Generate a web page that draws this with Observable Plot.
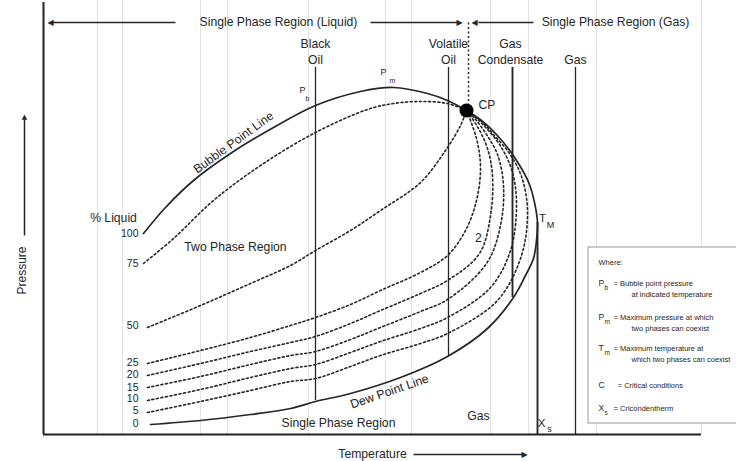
<!DOCTYPE html>
<html><head><meta charset="utf-8">
<script src="https://cdn.jsdelivr.net/npm/d3@7"></script>
<script src="https://cdn.jsdelivr.net/npm/@observablehq/plot@0.6"></script>
<style>body{margin:0;background:#fff} svg{display:block}</style>
</head><body><div id="chart"></div>
<script>
// Diagram units: T = temperature, P = pressure (arbitrary units)
const bubblePoint = [[100,201],[122,227],[150,254],[187,281],[230,307],[272,329],[317,343],[350,347],[384,341],[404,334],[423,324]];
const dewPoint = [[107,10],[157,14],[207,20],[247,26],[272,33],[307,41],[357,57],[404,78],[444,106],[470,137],[482,159],[490,176],[493,194],[494,212],[491,232],[486,250],[478,266],[467,283],[453,300],[438,314],[423,324]];
const liq75 = [[100,171],[130,196],[170,234],[217,269],[272,302],[324,325],[350,331],[377,333],[404,331],[423,324]];
const liq50 = [[104,107],[157,129],[207,151],[247,169],[272,184],[307,204],[337,224],[377,252],[402,284],[417,309],[423,324]];
const liq25 = [[104,71],[157,84],[207,97],[247,109],[272,117],[307,130],[337,144],[377,162],[404,179],[422,204],[433,234],[437,267],[433,296],[423,324]];
const liq20 = [[104,59],[157,71],[207,83],[247,92],[272,98],[307,111],[337,124],[377,141],[404,154],[436,181],[447,219],[449,259],[444,286],[435,306],[423,324]];
const liq15 = [[104,47],[157,58],[207,70],[247,79],[272,83],[307,95],[337,107],[377,123],[404,135],[443,171],[457,209],[460,249],[454,280],[443,300],[432,315],[423,324]];
const liq10 = [[104,34],[157,45],[207,57],[247,66],[272,70],[307,82],[337,93],[377,106],[404,117],[447,147],[467,184],[473,229],[469,262],[458,287],[444,305],[432,317],[423,324]];
const liq5 = [[104,22],[157,33],[207,44],[247,53],[272,56],[307,68],[337,79],[377,91],[404,101],[454,134],[478,179],[484,224],[478,258],[466,281],[450,300],[436,315],[423,324]];
const criticalPoint = [[423,324]];

const liquidLabels = ["100","75","50","25","20","15","10","5","0"];
const liquidLabelP = [201,171,109,72,60,47,36,24,11];

const fluidNames = ["Black\nOil","Volatile\nOil","Gas\nCondensate","Gas"];
const fluidT = [272,405,469,532];
const fluidBottomP = [34,78,137,0];
const cricondenthermT = 494;

const gridT = [54,79,157,184,265,342,368,447,485,553,658];

const quality = [["75",liq75],["50",liq50],["25",liq25],["20",liq20],["15",liq15],["10",liq10],["5",liq5]]
  .flatMap(([q, pts]) => pts.map(([T, P]) => ({q, T, P})));
const toRows = pts => pts.map(([T, P]) => ({T, P}));

const font = "'Liberation Sans', Arial, Helvetica, sans-serif";
const ink = "#262626";

const mainLabels = [
  {T:235,P:412,t:"Single Phase Region (Liquid)"},
  {T:572,P:412,t:"Single Phase Region (Gas)"},
  {T:70,P:216,t:"% Liquid"},
  {T:192,P:187,t:"Two Phase Region"},
  {T:295,P:11,t:"Single Phase Region"},
  {T:435,P:18,t:"Gas"},
  {T:329,P:-20,t:"Temperature"},
  {T:435,P:196,t:"2"}
];
const fluidLabels = fluidNames.map((t, i) => ({T: fluidT[i] + (i===2?-2:0), P: i===3 ? 376 : 384, t}));

const legendRows = [
  {sym:"P", sub:"b", P:151, l1:"= Bubble point pressure", l2:"at indicated temperature"},
  {sym:"P", sub:"m", P:117, l1:"= Maximum pressure at which", l2:"two phases can coexist"},
  {sym:"T", sub:"m", P:86, l1:"= Maximum temperature at", l2:"which two phases can coexist"},
  {sym:"C", sub:"", P:49, l1:"  = Critical conditions", l2:""},
  {sym:"X", sub:"s", P:26, l1:"= Cricondentherm", l2:""}
];

const chart = Plot.plot({
  width: 736, height: 461,
  marginLeft: 43, marginRight: 35, marginTop: 7, marginBottom: 27,
  x: {domain: [0, 658], axis: null},
  y: {domain: [0, 427], axis: null},
  style: {fontFamily: font, background: "#fff", overflow: "visible"},
  marks: [
    Plot.ruleX(gridT, {y1: 0, y2: 434, stroke: "#e2e2e2", strokeWidth: 1}),
    // legend box
    Plot.rect([{x1:545,x2:700,y1:11,y2:187}], {x1:"x1",x2:"x2",y1:"y1",y2:"y2", fill:"#fff", stroke:"#9a9a9a", strokeWidth:1}),
    // fluid type verticals
    Plot.ruleX(fluidT.map((T, i) => ({T, b: fluidBottomP[i], w: i===2 ? 1.9 : 1.3})), {x:"T", y1:"b", y2:367, stroke:ink, strokeWidth:"w"}),
    Plot.ruleX([cricondenthermT], {y1:0, y2:212, stroke:ink, strokeWidth:1.9}),
    // critical temperature dotted
    Plot.ruleX([425], {y1:324, y2:412, stroke:ink, strokeWidth:1.5, strokeDasharray:"2,2.5"}),
    // quality lines
    Plot.line(quality, {x:"T", y:"P", z:"q", curve:"catmull-rom", stroke:ink, strokeWidth:1.6, strokeDasharray:"2,2.6"}),
    Plot.line(toRows(bubblePoint), {x:"T", y:"P", curve:"catmull-rom", stroke:ink, strokeWidth:1.7}),
    Plot.line(toRows(dewPoint), {x:"T", y:"P", curve:"catmull-rom", stroke:ink, strokeWidth:1.7}),
    Plot.dot(toRows(criticalPoint), {x:"T", y:"P", r:7, fill:"#000"}),
    // axes
    Plot.ruleX([0], {y1:0, y2:432, stroke:"#222", strokeWidth:2}),
    Plot.ruleY([0], {x1:0, x2:658, stroke:"#222", strokeWidth:2}),
    // arrows (lines)
    Plot.link([
      {x1:132,y1:412,x2:8,y2:412},
      {x1:327,y1:412,x2:415,y2:412},
      {x1:490,y1:412,x2:435,y2:412},
      {x1:-19,y1:199,x2:-19,y2:316},
      {x1:370,y1:-20,x2:480,y2:-20}
    ], {x1:"x1",y1:"y1",x2:"x2",y2:"y2", stroke:ink, strokeWidth:1.5}),
    Plot.text([{T:7,P:412,t:"◀"},{T:431,P:412,t:"◀"}], {x:"T",y:"P",text:"t",fontSize:8,fontFamily:"DejaVu Sans",fill:ink}),
    Plot.text([{T:416,P:412,t:"▶"},{T:481,P:-20,t:"▶"}], {x:"T",y:"P",text:"t",fontSize:8,fontFamily:"DejaVu Sans",fill:ink}),
    Plot.text([{T:-19,P:318,t:"▲"}], {x:"T",y:"P",text:"t",fontSize:7,fontFamily:"DejaVu Sans",fill:ink}),
    // labels
    Plot.text(mainLabels, {x:"T", y:"P", text:"t", fontSize:12.2, fill:ink}),
    Plot.text(fluidLabels, {x:"T", y:"P", text:"t", fontSize:12.2, fill:ink, lineHeight:1.3}),
    Plot.text([{T:-21,P:164,t:"Pressure"}], {x:"T", y:"P", text:"t", fontSize:12, rotate:-90, fill:ink}),
    Plot.text([{T:190,P:292,t:"Bubble Point Line"}], {x:"T", y:"P", text:"t", fontSize:12.2, rotate:-36, fill:ink}),
    Plot.text([{T:346,P:43,t:"Dew Point Line"}], {x:"T", y:"P", text:"t", fontSize:12.2, rotate:-19, fill:ink}),
    Plot.text([{T:435,P:329,t:"CP"}], {x:"T", y:"P", text:"t", fontSize:12, textAnchor:"start", fill:ink}),
    Plot.text(liquidLabels.map((t,i) => ({t, P: liquidLabelP[i]})), {x:95, y:"P", text:"t", fontSize:10.5, textAnchor:"end", fill:ink}),
    // symbols with subscripts
    Plot.text([{T:259,P:344,t:"P"},{T:340,P:362,t:"P"}], {x:"T",y:"P",text:"t",fontSize:9,fill:ink}),
    Plot.text([{T:264,P:336,t:"b"},{T:349,P:354,t:"m"}], {x:"T",y:"P",text:"t",fontSize:7,fill:ink}),
    Plot.text([{T:499,P:216,t:"T"},{T:498,P:11,t:"X"}], {x:"T",y:"P",text:"t",fontSize:11.5,fill:ink}),
    Plot.text([{T:507,P:209,t:"M"},{T:506,P:5,t:"s"}], {x:"T",y:"P",text:"t",fontSize:9,fill:ink}),
    // legend text
    Plot.text([{T:555,P:172,t:"Where:"}], {x:"T",y:"P",text:"t",fontSize:7.5,textAnchor:"start",fill:ink}),
    Plot.text(legendRows, {x:555, y:"P", text:"sym", fontSize:8.5, textAnchor:"start", fill:ink}),
    Plot.text(legendRows, {x:561, y:d => d.P - 4, text:"sub", fontSize:6.5, textAnchor:"start", fill:ink}),
    Plot.text(legendRows, {x:570, y:"P", text:"l1", fontSize:7.5, textAnchor:"start", fill:ink}),
    Plot.text(legendRows, {x:588, y:d => d.P - 11, text:"l2", fontSize:7.5, textAnchor:"start", fill:ink})
  ]
});
document.getElementById("chart").appendChild(chart);
</script>
</body></html>
